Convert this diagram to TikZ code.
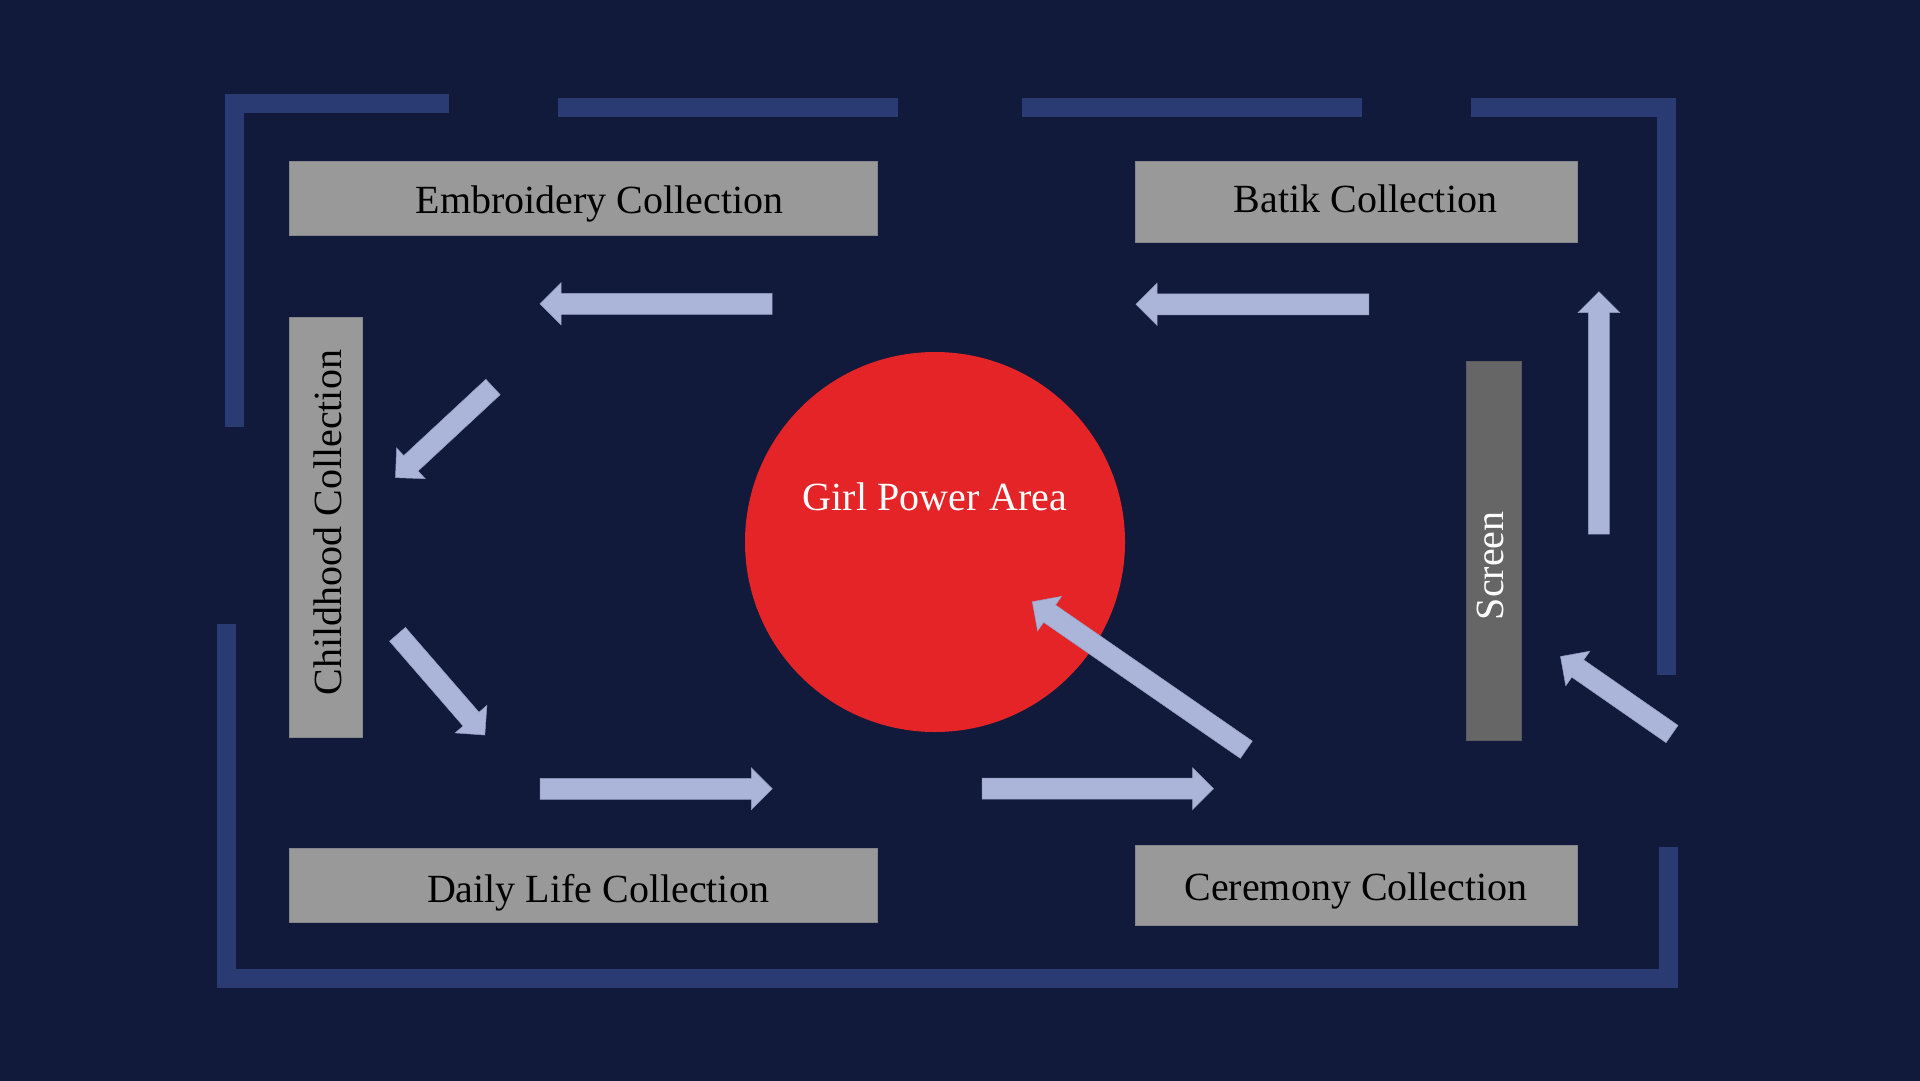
\documentclass[tikz,border=0pt]{standalone}
\usepackage{fontspec}
\setmainfont{Liberation Serif}
\usetikzlibrary{positioning, calc}

\definecolor{bgnavy}{HTML}{111A3A}
\definecolor{wallblue}{HTML}{2A3A73}
\definecolor{flowblue}{HTML}{ABB5DA}
\definecolor{boxgray}{HTML}{999999}
\definecolor{screengray}{HTML}{666666}
\definecolor{areared}{HTML}{E52428}

\begin{document}
\begin{tikzpicture}[
    x=0.4mm, y=-0.4mm,      % 1単位 = 元画像の1ピクセル（y は下向き）
    font=\fontsize{45.5}{50}\selectfont,
    wall/.style={draw=wallblue, line width=7.6mm, line cap=butt, line join=miter},
    exhibit/.style={fill=boxgray, draw=boxgray!85!bgnavy, line width=0.4mm},
    flow/.style={fill=flowblue, draw=flowblue!85!bgnavy, line width=0.2mm},
    label_txt/.style={anchor=base, inner sep=0pt}
]

    % --- 1. 背景 ---
    \useasboundingbox (0,0) rectangle (1920,1080);
    \fill [bgnavy] (-10,-10) rectangle (1930,1090);

    % --- 2. 壁 ---
    \draw [wall] (234,427) -- (234,103.8) -- (448.7,103.8);
    \draw [wall] (557.6,107.8) -- (897.6,107.8);
    \draw [wall] (1022.3,107.8) -- (1362,107.8);
    \draw [wall] (1471,107.8) -- (1666.7,107.8) -- (1666.7,675);
    \draw [wall] (226,624.3) -- (226,978.8) -- (1668,978.8) -- (1668,847);

    % --- 3. 展示ブース ---
    \draw [exhibit] (289.3,161) rectangle (877.2,235);
    \draw [exhibit] (1135.3,161.7) rectangle (1577.7,242.3);
    \draw [exhibit] (289.3,317.3) rectangle (362.7,737.3);
    \draw [exhibit] (289.3,848.3) rectangle (877.2,922.3);
    \draw [exhibit] (1135.6,845.7) rectangle (1577.3,925.3);
    \draw [fill=screengray, draw=screengray!85!bgnavy, line width=0.4mm]
        (1466.3,361.7) rectangle (1521.7,740);

    % 中央の円形エリア
    \fill [areared] (935,542) circle [radius=190];

    % --- 4. ラベル ---
    \node [label_txt] (embroidery) at (599.5,213) {Embroidery Collection};
    \node [label_txt] (batik) at (1365.5,212.7) {Batik Collection};
    \node [label_txt] (dailylife) at (598,902.7) {Daily Life Collection};
    \node [label_txt] (ceremony) at (1356,900) {Ceremony Collection};
    \node [label_txt, rotate=90] (childhood) at (341.7,522.7) {Childhood Collection};
    \node [label_txt, rotate=90, white] (screen) at (1503.3,565.8) {Screen};
    \node [label_txt, white] (girlpower) at (935,510) {Girl Power Area};

    % --- 5. 動線の矢印（始点 / 先端） ---
    \foreach \ax/\ay/\bx/\by in {
        772/303.8/540/303.8,
        1368.8/304.3/1136/304.3,
        493/387/395.5/477.6,
        397.5/634.3/484.8/735,
        540.2/788.8/772.3/788.8,
        982/788.7/1213.5/788.7,
        1246.3/749.7/1032.3/601.7,
        1672/734/1560.5/656.5,
        1598.9/534/1598.9/291.7}
    {
        \coordinate (tail) at (\ax,\ay);
        \coordinate (tip) at (\bx,\by);
        \coordinate (neck) at ($(tip)!8.4mm!(tail)$);
        \filldraw [flow] ($(tail)!4.2mm!90:(tip)$) -- ($(neck)!4.2mm!90:(tip)$)
            -- ($(neck)!8.4mm!90:(tip)$) -- (tip) -- ($(neck)!8.4mm!-90:(tip)$)
            -- ($(neck)!4.2mm!-90:(tip)$) -- ($(tail)!4.2mm!-90:(tip)$) -- cycle;
    }

\end{tikzpicture}
\end{document}
